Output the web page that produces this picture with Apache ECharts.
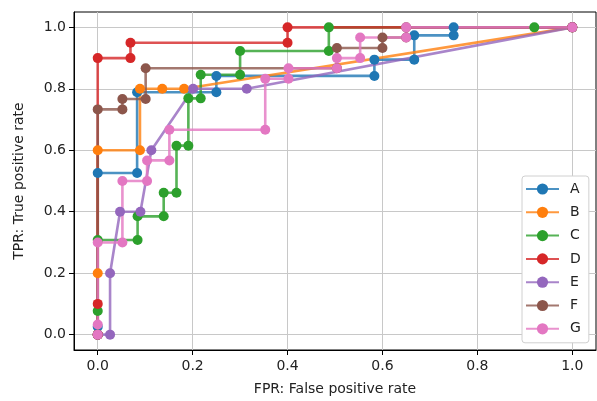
<!DOCTYPE html>
<html>
<head>
<meta charset="utf-8">
<script src="https://cdn.jsdelivr.net/npm/echarts@6/dist/echarts.min.js"></script>
<style>
html,body{margin:0;padding:0;background:#fff;}
#chart{width:597px;height:401px;}
</style>
</head>
<body>
<div id="chart"></div>
<script>
const names = ['A', 'B', 'C', 'D', 'E', 'F', 'G'];
const colors = ['#1f77b4', '#ff7f0e', '#2ca02c', '#d62728', '#9467bd', '#8c564b', '#e377c2'];
const xTicks = [0.0, 0.2, 0.4, 0.6, 0.8, 1.0];
const yTicks = [0.0, 0.2, 0.4, 0.6, 0.8, 1.0];

const fprA = [0, 0, 0, 0.083, 0.083, 0.25, 0.25, 0.583, 0.583, 0.667, 0.667, 0.75, 0.75, 1];
const tprA = [0, 0.026, 0.526, 0.526, 0.789, 0.789, 0.842, 0.842, 0.895, 0.895, 0.974, 0.974, 1, 1];

const fprB = [0, 0, 0, 0.089, 0.089, 0.136, 0.182, 1];
const tprB = [0, 0.2, 0.6, 0.6, 0.8, 0.8, 0.8, 1];

const fprC = [0, 0, 0, 0.084, 0.084, 0.139, 0.139, 0.166, 0.166, 0.191, 0.191, 0.217, 0.217, 0.30, 0.30, 0.487, 0.487, 0.92, 1];
const tprC = [0, 0.077, 0.308, 0.308, 0.385, 0.385, 0.462, 0.462, 0.615, 0.615, 0.769, 0.769, 0.846, 0.846, 0.923, 0.923, 1, 1, 1];

const fprD = [0, 0, 0, 0.069, 0.069, 0.4, 0.4, 1];
const tprD = [0, 0.1, 0.9, 0.9, 0.95, 0.95, 1, 1];

const fprE = [0, 0.026, 0.026, 0.047, 0.09, 0.113, 0.201, 0.314, 1];
const tprE = [0, 0, 0.2, 0.4, 0.4, 0.6, 0.8, 0.8, 1];

const fprF = [0, 0, 0.052, 0.052, 0.101, 0.101, 0.504, 0.504, 0.6, 0.6, 0.65, 0.65, 1];
const tprF = [0, 0.733, 0.733, 0.767, 0.767, 0.867, 0.867, 0.933, 0.933, 0.967, 0.967, 1, 1];

const fprG = [0, 0, 0, 0.052, 0.052, 0.104, 0.104, 0.151, 0.151, 0.353, 0.353, 0.402, 0.402, 0.504, 0.504, 0.553, 0.553, 0.65, 0.65, 1];
const tprG = [0, 0.033, 0.3, 0.3, 0.5, 0.5, 0.567, 0.567, 0.667, 0.667, 0.833, 0.833, 0.867, 0.867, 0.9, 0.9, 0.967, 0.967, 1, 1];

const fprs = [fprA, fprB, fprC, fprD, fprE, fprF, fprG];
const tprs = [tprA, tprB, tprC, tprD, tprE, tprF, tprG];

const font = 'DejaVu Sans';
const chart = echarts.init(document.getElementById('chart'), null, {renderer: 'canvas'});

const series = names.map((n, i) => ({
  name: n,
  type: 'line',
  data: fprs[i].map((x, j) => [x, tprs[i][j]]),
  symbol: 'circle',
  symbolSize: 10,
  showAllSymbol: true,
  clip: false,
  color: colors[i],
  lineStyle: {width: 2.6, color: colors[i], opacity: 0.8},
  itemStyle: {color: colors[i], opacity: 1},
  emphasis: {disabled: true},
  animation: false
}));

chart.setOption({
  animation: false,
  backgroundColor: '#fff',
  grid: {left: 74, right: 1, top: 12, bottom: 48, show: true, borderColor: '#000', borderWidth: 1, backgroundColor: 'transparent'},
  xAxis: {
    type: 'value', min: -0.05, max: 1.05,
    name: 'FPR: False positive rate', nameLocation: 'middle', nameGap: 32,
    nameTextStyle: {fontFamily: font, fontSize: 14, color: '#222'},
    axisLine: {show: true, onZero: false, lineStyle: {color: '#000', width: 1}},
    axisTick: {show: true, length: 5, inside: false, customValues: xTicks, lineStyle: {color: '#000', width: 1}},
    axisLabel: {customValues: xTicks, margin: 9, fontFamily: font, fontSize: 14, color: '#222', formatter: v => v.toFixed(1)},
    splitLine: {show: true, lineStyle: {color: '#c8c8c8', width: 1}}
  },
  yAxis: {
    type: 'value', min: -0.05, max: 1.05,
    name: 'TPR: True positive rate', nameLocation: 'middle', nameGap: 48, nameRotate: 90,
    nameTextStyle: {fontFamily: font, fontSize: 14, color: '#222'},
    axisLine: {show: true, onZero: false, lineStyle: {color: '#000', width: 1}},
    axisTick: {show: true, length: 5, inside: false, customValues: yTicks, lineStyle: {color: '#000', width: 1}},
    axisLabel: {customValues: yTicks, margin: 8, fontFamily: font, fontSize: 14, color: '#222', formatter: v => v.toFixed(1)},
    splitLine: {show: true, lineStyle: {color: '#c8c8c8', width: 1}}
  },
  legend: {
    data: names,
    orient: 'vertical',
    left: 522, top: 176,
    itemWidth: 33, itemHeight: 14, itemGap: 9.3,
    padding: [6, 8, 7, 3],
    backgroundColor: '#fff',
    borderColor: '#d0d0d0', borderWidth: 1, borderRadius: 3,
    textStyle: {fontFamily: font, fontSize: 14, color: '#222', padding: [0, 0, 0, 6]},
    selectedMode: false
  },
  series: series
});
</script>
</body>
</html>
